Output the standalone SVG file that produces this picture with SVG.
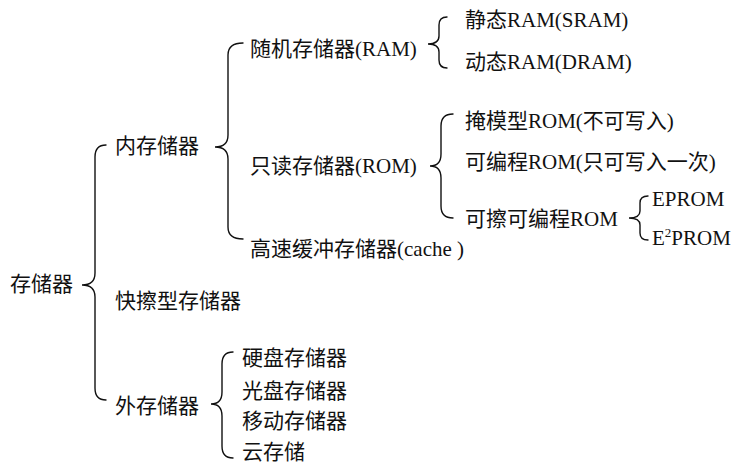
<svg xmlns="http://www.w3.org/2000/svg" width="734" height="465" viewBox="0 0 734 465">
<style>
text{font-family:"Liberation Serif","Noto Sans CJK SC",serif;font-size:21px;fill:#111}
.b{fill:none;stroke:#111;stroke-width:1.4;stroke-linecap:round}
</style>
<rect width="734" height="465" fill="#fff"/>
<g id="connectors">
<path class="b" d="M106,145 Q95,145 95,157 L95,273 Q95,285 82,285 Q95,285 95,297 L95,388 Q95,400 106,400"/>
<path class="b" d="M243,43 Q228,43 228,55 L228,135 Q228,147 215,147 Q228,147 228,159 L228,227 Q228,239 243,239"/>
<path class="b" d="M447,17 Q439,17 439,25 L439,36 Q439,44 428,44 Q439,44 439,52 L439,60 Q439,68 447,68"/>
<path class="b" d="M453,114 Q441,114 441,126 L441,154 Q441,166 430,166 Q441,166 441,178 L441,206 Q441,218 453,218"/>
<path class="b" d="M648,196 Q640,196 640,203 L640,211 Q640,218 629,218 Q640,218 640,225 L640,233 Q640,240 648,240"/>
<path class="b" d="M233,352 Q222,352 222,364 L222,392 Q222,404 211,404 Q222,404 222,416 L222,446 Q222,458 233,458"/>
</g>
<g id="root"><text x="10" y="291">存储器</text></g>
<g id="neicun"><text x="115" y="153">内存储器</text></g>
<g id="kuaica"><text x="115" y="308">快擦型存储器</text></g>
<g id="waicun"><text x="115" y="413">外存储器</text></g>
<g id="ram"><text x="250" y="56">随机存储器(RAM)</text></g>
<g id="rom"><text x="250" y="173">只读存储器(ROM)</text></g>
<g id="cache"><text x="250" y="256">高速缓冲存储器(cache )</text></g>
<g id="sram"><text x="465" y="27">静态RAM(SRAM)</text></g>
<g id="dram"><text x="465" y="69">动态RAM(DRAM)</text></g>
<g id="mask"><text x="465" y="128">掩模型ROM(不可写入)</text></g>
<g id="prom"><text x="465" y="169">可编程ROM(只可写入一次)</text></g>
<g id="erom"><text x="465" y="226">可擦可编程ROM</text></g>
<g id="eprom"><text x="652" y="206">EPROM</text></g>
<g id="e2prom"><text x="652" y="245">E<tspan font-size="13" dy="-8">2</tspan><tspan dy="8">PROM</tspan></text></g>
<g id="hd"><text x="242" y="365">硬盘存储器</text></g>
<g id="cd"><text x="242" y="398">光盘存储器</text></g>
<g id="mobile"><text x="242" y="428">移动存储器</text></g>
<g id="cloud"><text x="242" y="459">云存储</text></g>
</svg>
